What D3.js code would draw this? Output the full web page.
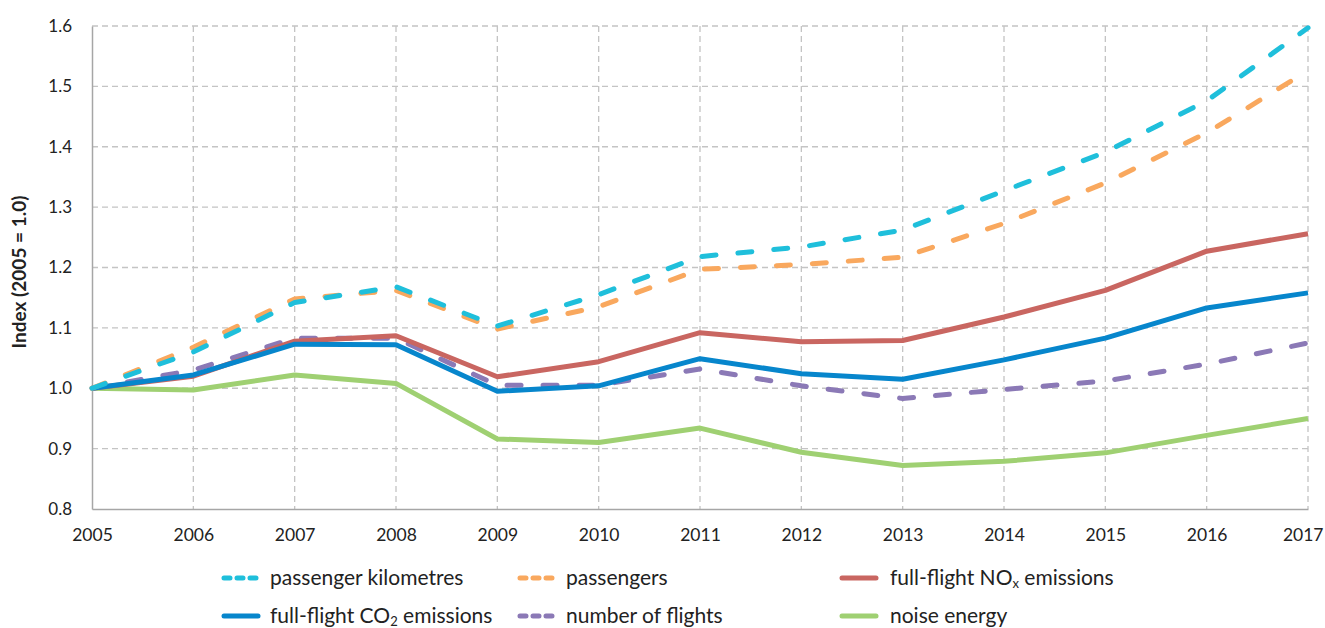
<!DOCTYPE html>
<html>
<head>
<meta charset="utf-8">
<script src="https://d3js.org/d3.v7.min.js"></script>
<style>
  body { margin: 0; background: #fff; }
  text { font-family: Lato, "Open Sans", sans-serif; fill: #222; }
  .grid line { stroke: #c4c4c4; stroke-dasharray: 6,4; stroke-width: 1.3; }
  .legend text { font-size: 21px; }
</style>
</head>
<body>
<div id="chart"></div>
<script>
var years = [2005, 2006, 2007, 2008, 2009, 2010, 2011, 2012, 2013, 2014, 2015, 2016, 2017];
var yTicks = [0.8, 0.9, 1.0, 1.1, 1.2, 1.3, 1.4, 1.5, 1.6];

var passengerKm = [1.0, 1.06, 1.142, 1.168, 1.103, 1.155, 1.218, 1.234, 1.262, 1.327, 1.391, 1.476, 1.597];
var passengers  = [1.0, 1.068, 1.148, 1.162, 1.098, 1.135, 1.197, 1.205, 1.217, 1.273, 1.34, 1.423, 1.526];
var noxEmis     = [1.0, 1.02, 1.078, 1.087, 1.019, 1.044, 1.092, 1.077, 1.079, 1.118, 1.162, 1.227, 1.256];
var co2Emis     = [1.0, 1.022, 1.073, 1.072, 0.995, 1.004, 1.049, 1.024, 1.015, 1.047, 1.083, 1.133, 1.158];
var flights     = [1.0, 1.03, 1.083, 1.083, 1.005, 1.005, 1.032, 1.004, 0.983, 0.998, 1.012, 1.04, 1.075];
var noise       = [1.0, 0.997, 1.022, 1.008, 0.916, 0.91, 0.934, 0.894, 0.872, 0.879, 0.893, 0.922, 0.95];

var seriesNames = ["passenger kilometres", "passengers", "full-flight NOx emissions",
                   "full-flight CO2 emissions", "number of flights", "noise energy"];
var seriesValues = [passengerKm, passengers, noxEmis, co2Emis, flights, noise];
var seriesColors = ["#1fbfdb", "#f9a85e", "#c96661", "#0786cc", "#8b79b6", "#9fd072"];
var seriesDashed = [true, true, false, false, true, false];
// drawing order: back to front
var drawOrder = [5, 4, 2, 3, 1, 0];

var svgWidth = 1325, svgHeight = 628;
var margin = { top: 26, right: 17, bottom: 119, left: 92 };
var width = svgWidth - margin.left - margin.right;
var height = svgHeight - margin.top - margin.bottom;

var svg = d3.select("#chart").append("svg")
    .attr("width", svgWidth)
    .attr("height", svgHeight);
var chart = svg.append("g")
    .attr("transform", "translate(" + margin.left + "," + margin.top + ")");

var x = d3.scaleLinear().domain([2005, 2017]).range([0, width]);
var y = d3.scaleLinear().domain([0.8, 1.6]).range([height, 0]);

// grid
var grid = chart.append("g").attr("class", "grid");
grid.selectAll(".h").data(yTicks.slice(1)).enter().append("line")
    .attr("x1", 0).attr("x2", width)
    .attr("y1", function(d) { return y(d); })
    .attr("y2", function(d) { return y(d); });
grid.selectAll(".v").data(years.slice(1)).enter().append("line")
    .attr("y1", 0).attr("y2", height)
    .attr("x1", function(d) { return x(d); })
    .attr("x2", function(d) { return x(d); });

// axes
var xAxis = chart.append("g")
    .attr("transform", "translate(0," + height + ")")
    .call(d3.axisBottom(x).tickValues(years).tickFormat(d3.format("d")).tickSize(0).tickPadding(20));
var yAxis = chart.append("g")
    .call(d3.axisLeft(y).tickValues(yTicks).tickFormat(d3.format(".1f")).tickSize(0).tickPadding(20));
xAxis.select(".domain").attr("stroke", "#a6a6a6").attr("stroke-width", 1.5);
yAxis.select(".domain").attr("stroke", "#a6a6a6").attr("stroke-width", 1.5);
xAxis.selectAll("text").style("font-size", "17.5px").style("font-family", "Lato").attr("fill", "#222");
yAxis.selectAll("text").style("font-size", "17px").style("font-family", "Lato").attr("fill", "#222");
// last year label is pulled in to stay inside the picture
xAxis.selectAll(".tick text").filter(function(d) { return d === 2017; })
    .attr("text-anchor", "end").attr("x", 15);

// y label
svg.append("text")
    .attr("transform", "translate(26,272) rotate(-90)")
    .attr("text-anchor", "middle")
    .style("font-size", "19px")
    .style("font-weight", "bold")
    .text("Index (2005 = 1.0)");

var line = d3.line()
    .x(function(d, i) { return x(years[i]); })
    .y(function(d) { return y(d); });

drawOrder.forEach(function(k) {
    chart.append("path")
        .datum(seriesValues[k])
        .attr("fill", "none")
        .attr("stroke", seriesColors[k])
        .attr("stroke-width", 5)
        .attr("stroke-linejoin", "round")
        .attr("stroke-linecap", seriesDashed[k] ? "round" : "butt")
        .attr("stroke-dasharray", seriesDashed[k] ? "14,22" : null)
        .attr("d", line);
});

// legend
var legendPos = [
    { x: 222, y: 578 }, { x: 518, y: 578 }, { x: 840, y: 578 },
    { x: 222, y: 616 }, { x: 518, y: 616 }, { x: 840, y: 616 }
];
var legend = svg.append("g").attr("class", "legend");
seriesNames.forEach(function(name, k) {
    var p = legendPos[k];
    var g = legend.append("g").attr("transform", "translate(" + p.x + "," + p.y + ")");
    g.append("line")
        .attr("x1", 2).attr("x2", 36).attr("y1", 0).attr("y2", 0)
        .attr("stroke", seriesColors[k])
        .attr("stroke-width", 5)
        .attr("stroke-linecap", "round")
        .attr("stroke-dasharray", seriesDashed[k] ? "6,7" : null);
    var t = g.append("text").attr("x", k % 3 === 2 ? 50 : 48).attr("y", 7);
    var m = name.match(/^(.*(?:NO|CO))(x|2)( .*)$/);
    if (m) {
        t.append("tspan").text(m[1]);
        t.append("tspan").attr("dy", 3).style("font-size", "13px").text(m[2]);
        t.append("tspan").attr("dy", -3).text(m[3]);
    } else {
        t.text(name);
    }
});
</script>
</body>
</html>
